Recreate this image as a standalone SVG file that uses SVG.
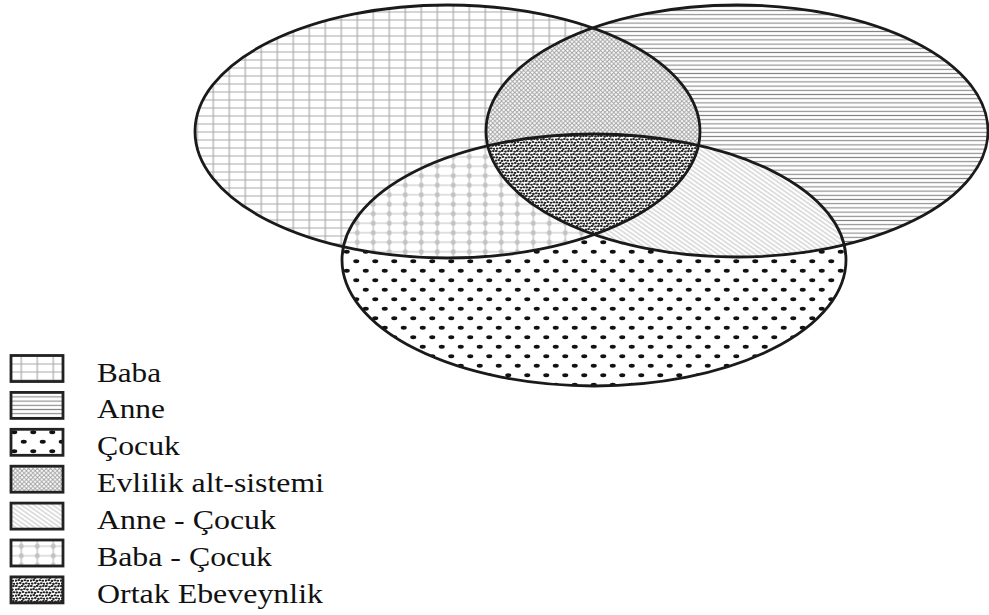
<svg xmlns="http://www.w3.org/2000/svg" width="989" height="615" viewBox="0 0 989 615">
<style>
.outline{fill:none;stroke:#1a1a1a;stroke-width:2.8}
.icon{stroke:#222;stroke-width:2.8}
.lbl{font-family:"Liberation Serif","Times New Roman",serif;font-size:28px;fill:#111}
</style>
<defs>
<clipPath id="cBaba"><ellipse cx="447.5" cy="131.5" rx="252.5" ry="126.5"/></clipPath>
<clipPath id="cAnne"><ellipse cx="737" cy="131" rx="251" ry="126"/></clipPath>
<pattern id="pBaba" patternUnits="userSpaceOnUse" x="-2.7" y="0" width="16" height="8">
<rect width="16" height="8" fill="#fff"/>
<line x1="0" y1="4" x2="16" y2="4" stroke="#c4c4c4" stroke-width="1.4"/>
<line x1="8" y1="0" x2="8" y2="8" stroke="#999" stroke-width="1"/>
</pattern>
<pattern id="pAnne" patternUnits="userSpaceOnUse" width="16" height="4.2">
<rect width="16" height="4.2" fill="#fff"/>
<line x1="0" y1="2.1" x2="16" y2="2.1" stroke="#858585" stroke-width="1.1"/>
</pattern>
<pattern id="pCocuk" patternUnits="userSpaceOnUse" width="19" height="19">
<rect width="19" height="19" fill="#fff"/>
<ellipse cx="4.75" cy="4.75" rx="3" ry="1.9" fill="#111"/>
<ellipse cx="14.25" cy="14.25" rx="3" ry="1.9" fill="#111"/>
</pattern>
<pattern id="pEvl" patternUnits="userSpaceOnUse" width="4.4" height="4.4">
<rect width="4.4" height="4.4" fill="#fff"/>
<path d="M-1 -1 L5.4 5.4 M5.4 -1 L-1 5.4" stroke="#9e9e9e" stroke-width="0.9"/>
</pattern>
<pattern id="pAC" patternUnits="userSpaceOnUse" width="8" height="3.6" patternTransform="rotate(35)">
<rect width="8" height="3.6" fill="#fff"/>
<line x1="0" y1="1.8" x2="8" y2="1.8" stroke="#b2b2b2" stroke-width="0.85"/>
</pattern>
<pattern id="pBC" patternUnits="userSpaceOnUse" x="-2.7" y="0" width="16" height="9.5">
<rect width="16" height="9.5" fill="#fff"/>
<line x1="0" y1="4.75" x2="16" y2="4.75" stroke="#d0d0d0" stroke-width="1.3"/>
<line x1="8" y1="0" x2="8" y2="9.5" stroke="#acacac" stroke-width="1"/>
<ellipse cx="8" cy="4.75" rx="2.4" ry="2.6" fill="#c2c2c2"/>
</pattern>
<pattern id="pOrtak" patternUnits="userSpaceOnUse" width="15" height="15">
<rect width="15" height="15" fill="#fff"/>
<g fill="#222">
<ellipse cx="1.3" cy="1.0" rx="1.4" ry="1.05"/><ellipse cx="4.6" cy="1.8" rx="1.4" ry="1.05"/><ellipse cx="7.2" cy="0.9" rx="1.4" ry="1.05"/><ellipse cx="10.5" cy="1.6" rx="1.4" ry="1.05"/><ellipse cx="13.4" cy="1.1" rx="1.4" ry="1.05"/>
<ellipse cx="1.0" cy="4.5" rx="1.4" ry="1.05"/><ellipse cx="3.6" cy="4.1" rx="1.4" ry="1.05"/><ellipse cx="6.5" cy="4.7" rx="1.4" ry="1.05"/><ellipse cx="9.4" cy="4.0" rx="1.4" ry="1.05"/><ellipse cx="12.4" cy="4.6" rx="1.4" ry="1.05"/>
<ellipse cx="1.8" cy="7.4" rx="1.4" ry="1.05"/><ellipse cx="4.9" cy="7.9" rx="1.4" ry="1.05"/><ellipse cx="8.0" cy="7.0" rx="1.4" ry="1.05"/><ellipse cx="11.1" cy="7.7" rx="1.4" ry="1.05"/><ellipse cx="13.9" cy="7.2" rx="1.4" ry="1.05"/>
<ellipse cx="0.9" cy="10.6" rx="1.4" ry="1.05"/><ellipse cx="3.8" cy="10.1" rx="1.4" ry="1.05"/><ellipse cx="6.9" cy="10.9" rx="1.4" ry="1.05"/><ellipse cx="9.9" cy="10.3" rx="1.4" ry="1.05"/><ellipse cx="12.8" cy="10.8" rx="1.4" ry="1.05"/>
<ellipse cx="2.2" cy="13.6" rx="1.4" ry="1.05"/><ellipse cx="5.3" cy="13.1" rx="1.4" ry="1.05"/><ellipse cx="8.4" cy="13.9" rx="1.4" ry="1.05"/><ellipse cx="11.3" cy="13.3" rx="1.4" ry="1.05"/><ellipse cx="14.1" cy="13.8" rx="1.4" ry="1.05"/>
</g>
</pattern>
</defs>
<rect width="989" height="615" fill="#fff"/>

<g id="baba"><ellipse cx="447.5" cy="131.5" rx="252.5" ry="126.5" fill="url(#pBaba)"/></g>
<g id="anne"><ellipse cx="737" cy="131" rx="251" ry="126" fill="url(#pAnne)"/></g>
<g id="cocuk"><ellipse cx="594" cy="260" rx="252" ry="126" fill="url(#pCocuk)"/></g>
<g id="evlilik-alt-sistemi" clip-path="url(#cBaba)"><ellipse cx="737" cy="131" rx="251" ry="126" fill="url(#pEvl)"/></g>
<g id="anne-cocuk" clip-path="url(#cAnne)"><ellipse cx="594" cy="260" rx="252" ry="126" fill="url(#pAC)"/></g>
<g id="baba-cocuk" clip-path="url(#cBaba)"><ellipse cx="594" cy="260" rx="252" ry="126" fill="url(#pBC)"/></g>
<g id="ortak-ebeveynlik" clip-path="url(#cBaba)"><g clip-path="url(#cAnne)"><ellipse cx="594" cy="260" rx="252" ry="126" fill="url(#pOrtak)"/></g></g>
<g id="outlines">
<ellipse class="outline" cx="447.5" cy="131.5" rx="252.5" ry="126.5"/>
<ellipse class="outline" cx="737" cy="131" rx="251" ry="126"/>
<ellipse class="outline" cx="594" cy="260" rx="252" ry="126"/>
</g>
<g id="connectors"/>

<g id="legend">
<g id="leg-baba"><rect class="icon" x="11" y="355.5" width="52" height="26" fill="url(#pBaba)"/><text class="lbl" x="97" y="381.5" textLength="64" lengthAdjust="spacingAndGlyphs">Baba</text></g>
<g id="leg-anne"><rect class="icon" x="11" y="392.4" width="52" height="26" fill="url(#pAnne)"/><text class="lbl" x="97" y="418.4" textLength="68" lengthAdjust="spacingAndGlyphs">Anne</text></g>
<g id="leg-cocuk"><rect class="icon" x="11" y="429.3" width="52" height="26" fill="url(#pCocuk)"/><text class="lbl" x="97" y="455.3" textLength="83" lengthAdjust="spacingAndGlyphs">Çocuk</text></g>
<g id="leg-evlilik"><rect class="icon" x="11" y="466.2" width="52" height="26" fill="url(#pEvl)"/><text class="lbl" x="97" y="492.2" textLength="227" lengthAdjust="spacingAndGlyphs">Evlilik alt-sistemi</text></g>
<g id="leg-anne-cocuk"><rect class="icon" x="11" y="503.1" width="52" height="26" fill="url(#pAC)"/><text class="lbl" x="97" y="529.1" textLength="179" lengthAdjust="spacingAndGlyphs">Anne - Çocuk</text></g>
<g id="leg-baba-cocuk"><rect class="icon" x="11" y="540" width="52" height="26" fill="url(#pBC)"/><text class="lbl" x="97" y="566" textLength="175" lengthAdjust="spacingAndGlyphs">Baba - Çocuk</text></g>
<g id="leg-ortak"><rect class="icon" x="11" y="576.9" width="52" height="26" fill="url(#pOrtak)"/><text class="lbl" x="97" y="602.9" textLength="226" lengthAdjust="spacingAndGlyphs">Ortak Ebeveynlik</text></g>
</g>
</svg>
